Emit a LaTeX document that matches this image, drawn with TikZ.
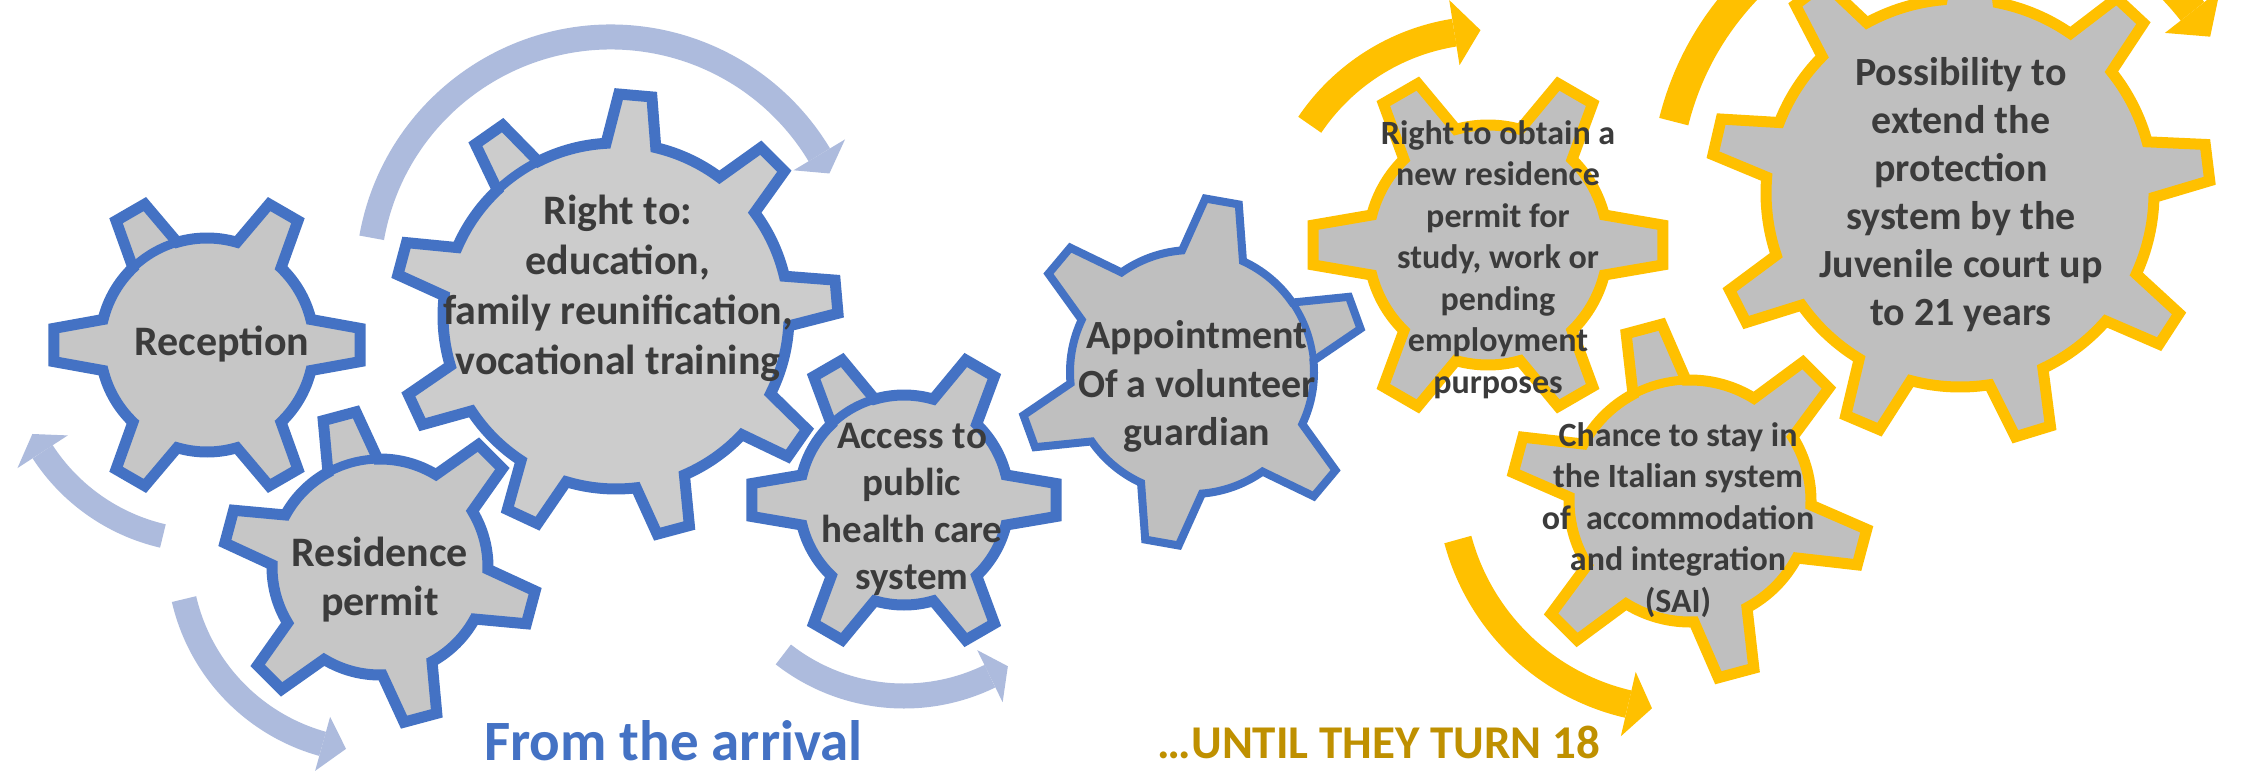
\documentclass[tikz,border=0pt]{standalone}
\usepackage{fontspec}
\setmainfont{Carlito}
\usetikzlibrary{calc}
\definecolor{gblue}{HTML}{4472C4}
\definecolor{arrowblue}{HTML}{ADBBDD}
\definecolor{gyellow}{HTML}{FFC000}
\definecolor{goldtext}{HTML}{BF9000}
\definecolor{txtgray}{HTML}{3B3B3B}
\definecolor{fillA}{HTML}{C6C6C6}
\definecolor{fillB}{HTML}{CCCCCC}
\definecolor{fillC}{HTML}{BFBFBF}
% gear: x, y, teeth, rotation, root r, tip r, base half-angle, tip half-angle, style
\newcommand{\gear}[9]{%
  \begin{scope}[shift={(#1,#2)}]
  \draw[#9] ({#4-#7}:#5)
    \foreach \k in {1,...,#3}{
      -- ({#4+(\k-1)*360/#3-#8}:#6)
      -- ({#4+(\k-1)*360/#3+#8}:#6)
      -- ({#4+(\k-1)*360/#3+#7}:#5)
      arc[start angle={#4+(\k-1)*360/#3+#7}, end angle={#4+\k*360/#3-#7}, radius=#5]
    } -- cycle;
  \end{scope}}
% tab line across a tooth base: x, y, angle, root r, half-angle, style
\newcommand{\gtab}[6]{%
  \begin{scope}[shift={(#1,#2)}]
  \draw[#6] ({#3+#5}:#4) arc[start angle={#3+#5}, end angle={#3-#5}, radius=#4];
  \end{scope}}
% arc arrow: x, y, r, start, end, tip angle, band width, head half width, colour
\newcommand{\arcarrow}[9]{%
  \begin{scope}[shift={(#1,#2)}]
  \draw[line width=#7, #9] ({#4}:#3) arc[start angle={#4}, end angle={#5}, radius=#3];
  \fill[#9] ({#5}:{#3-#8}) -- ({#5}:{#3+#8}) -- ({#6}:#3) -- cycle;
  \end{scope}}
\begin{document}
\begin{tikzpicture}[x=1pt,y=1pt,
  bgear/.style={fill=fillA, draw=gblue, line width=11pt, line join=miter},
  bgearC/.style={fill=fillB, draw=gblue, line width=11pt, line join=miter},
  bgearD/.style={fill=fillC, draw=gblue, line width=8pt, line join=miter},
  ygear/.style={fill=fillC, draw=gyellow, line width=11pt, line join=miter},
  bline/.style={draw=gblue, line width=9pt},
  bthin/.style={draw=gblue, line width=7pt},
  yline/.style={draw=gyellow, line width=9pt},
  lbl/.style={text=txtgray, align=center, inner sep=0pt}]
\path[use as bounding box, fill=white] (0,0) rectangle (2246,-771);

% arrows
\arcarrow{207}{-345}{196}{257}{213}{207}{24}{30}{arrowblue}
\arcarrow{375}{-555}{196}{193}{254.5}{261.5}{25}{28}{arrowblue}
\arcarrow{611}{-280}{243}{170}{31}{26}{25}{30}{arrowblue}
\arcarrow{904}{-500}{196}{232}{296}{302}{25}{29}{arrowblue}
\arcarrow{1488}{-245}{215}{146}{99}{92}{28}{33}{gyellow}
\arcarrow{1960}{-193}{295}{166}{38}{32}{30}{35}{gyellow}
\arcarrow{1680}{-480}{230}{195}{257}{263}{28}{33}{gyellow}

% blue gears
\gear{207}{-345}{6}{0}{107}{154}{13.8}{6.2}{bgear}
\gtab{207}{-345}{120}{107}{13.8}{bline}
\gear{380}{-567}{6}{-15}{108}{157}{13.8}{6.2}{bgear}
\gtab{380}{-567}{105}{108}{13.8}{bline}
\gear{616}{-316}{9}{85}{173}{222}{8.3}{4.3}{bgearC}
\gtab{616}{-316}{125}{173}{8.3}{bline}
\gear{904}{-500}{6}{0}{105}{153}{13.8}{6.2}{bgear}
\gtab{904}{-500}{120}{105}{13.8}{bline}
\gear{1192}{-372}{6}{20}{122}{174}{14.7}{5.6}{bgearD}
\gtab{1192}{-372}{20}{122}{14.7}{bthin}

% yellow gears
\gear{1960}{-193}{9}{7}{194}{250}{8.3}{4.2}{ygear}
\gear{1488}{-245}{6}{0}{120}{176}{14.5}{6.5}{ygear}
\gear{1690}{-501}{6}{-15}{121}{179}{13.1}{5.9}{ygear}
\gtab{1690}{-501}{105}{121}{13.1}{yline}

% labels
\node[lbl, font=\fontsize{42}{51}\selectfont\bfseries] (t1) at (222,-344) {Reception};
\node[lbl, font=\fontsize{42}{49}\selectfont\bfseries] (t2) at (380,-580) {Residence\\permit};
\node[lbl, font=\fontsize{42}{50}\selectfont\bfseries] (t3) at (618,-288.5) {Right to:\\education,\\family reunification,\\vocational training};
\node[lbl, font=\fontsize{39}{47}\selectfont\bfseries] (t4) at (912,-509.5) {Access to\\public\\health care\\system};
\node[lbl, font=\fontsize{40}{48.5}\selectfont\bfseries] (t5) at (1197,-386.5) {Appointment\\Of a volunteer\\guardian};
\node[lbl, font=\fontsize{34}{41.5}\selectfont\bfseries] (t6) at (1498,-259.5) {Right to obtain a\\new residence\\permit for\\study, work or\\pending\\employment\\purposes};
\node[lbl, font=\fontsize{40}{48}\selectfont\bfseries] (t7) at (1961,-195) {Possibility to\\extend the\\protection\\system by the\\Juvenile court up\\to 21 years};
\node[lbl, font=\fontsize{34}{41.5}\selectfont\bfseries] (t8) at (1678,-520) {Chance to stay in\\the Italian system\\of~ accommodation\\and integration\\(SAI)};

\node[text=gblue, inner sep=0pt, anchor=base west, font=\fontsize{57}{60}\selectfont\bfseries] (from) at (484,-760) {From the arrival};
\node[text=goldtext, inner sep=0pt, anchor=base east, font=\fontsize{47}{50}\selectfont\bfseries] (until) at (1600,-758) {…UNTIL THEY TURN 18};
\end{tikzpicture}
\end{document}
